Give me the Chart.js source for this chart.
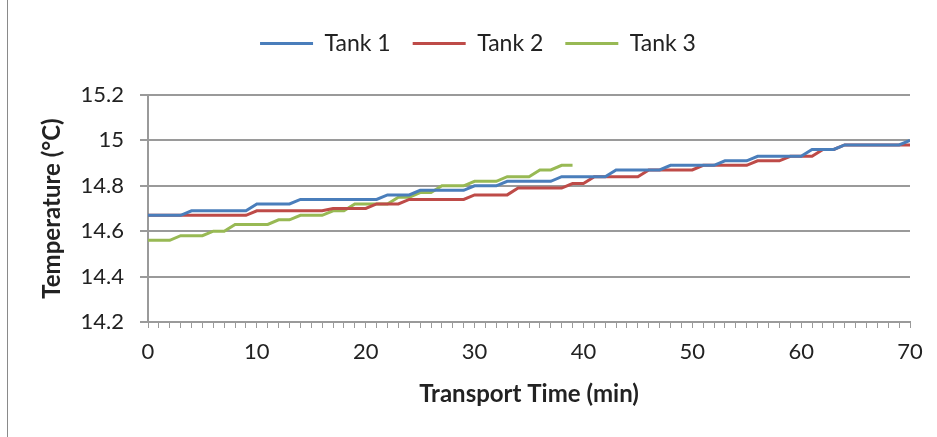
<!DOCTYPE html>
<html>
<head>
<meta charset="utf-8">
<script src="https://cdn.jsdelivr.net/npm/chart.js@4.4.1/dist/chart.umd.min.js"></script>
<style>
  html, body { margin: 0; padding: 0; background: #fff; }
  #wrap { position: relative; width: 937px; height: 437px; }
  #frame { position: absolute; left: 7px; top: 0; width: 0; height: 437px; border-left: 1px solid #8a8a8a; }
</style>
</head>
<body>
<div id="wrap">
  <div id="frame"></div>
  <canvas id="myChart" width="937" height="437"></canvas>
</div>
<script>
// minutos de transporte
var minutos = [0, 1, 2, 3, 4, 5, 6, 7, 8, 9, 10, 11, 12, 13, 14, 15, 16, 17, 18, 19,
  20, 21, 22, 23, 24, 25, 26, 27, 28, 29, 30, 31, 32, 33, 34, 35, 36, 37, 38, 39,
  40, 41, 42, 43, 44, 45, 46, 47, 48, 49, 50, 51, 52, 53, 54, 55, 56, 57, 58, 59,
  60, 61, 62, 63, 64, 65, 66, 67, 68, 69, 70];

var tank1 = [14.67, 14.67, 14.67, 14.67, 14.69, 14.69, 14.69, 14.69, 14.69, 14.69,
  14.72, 14.72, 14.72, 14.72, 14.74, 14.74, 14.74, 14.74, 14.74, 14.74,
  14.74, 14.74, 14.76, 14.76, 14.76, 14.78, 14.78, 14.78, 14.78, 14.78,
  14.80, 14.80, 14.80, 14.82, 14.82, 14.82, 14.82, 14.82, 14.84, 14.84,
  14.84, 14.84, 14.84, 14.87, 14.87, 14.87, 14.87, 14.87, 14.89, 14.89,
  14.89, 14.89, 14.89, 14.91, 14.91, 14.91, 14.93, 14.93, 14.93, 14.93,
  14.93, 14.96, 14.96, 14.96, 14.98, 14.98, 14.98, 14.98, 14.98, 14.98, 15.00];

var tank2 = [14.67, 14.67, 14.67, 14.67, 14.67, 14.67, 14.67, 14.67, 14.67, 14.67,
  14.69, 14.69, 14.69, 14.69, 14.69, 14.69, 14.69, 14.70, 14.70, 14.70,
  14.70, 14.72, 14.72, 14.72, 14.74, 14.74, 14.74, 14.74, 14.74, 14.74,
  14.76, 14.76, 14.76, 14.76, 14.79, 14.79, 14.79, 14.79, 14.79, 14.81,
  14.81, 14.84, 14.84, 14.84, 14.84, 14.84, 14.87, 14.87, 14.87, 14.87,
  14.87, 14.89, 14.89, 14.89, 14.89, 14.89, 14.91, 14.91, 14.91, 14.93,
  14.93, 14.93, 14.96, 14.96, 14.98, 14.98, 14.98, 14.98, 14.98, 14.98, 14.98];

var tank3 = [14.56, 14.56, 14.56, 14.58, 14.58, 14.58, 14.60, 14.60, 14.63, 14.63,
  14.63, 14.63, 14.65, 14.65, 14.67, 14.67, 14.67, 14.69, 14.69, 14.72,
  14.72, 14.72, 14.72, 14.75, 14.75, 14.77, 14.77, 14.80, 14.80, 14.80,
  14.82, 14.82, 14.82, 14.84, 14.84, 14.84, 14.87, 14.87, 14.89, 14.89];

var nomesSeries = ['Tank 1', 'Tank 2', 'Tank 3'];
var ticksY = [14.2, 14.4, 14.6, 14.8, 15, 15.2];
var ticksX = [0, 10, 20, 30, 40, 50, 60, 70];

function pontos(valores) {
    return valores.map(function (v, i) { return { x: minutos[i], y: v }; });
}

var fonte = 'Lato, "Open Sans", sans-serif';
var cinza = '#9a9a9a';

function serie(nome, valores, cor) {
    return {
        label: nome,
        data: pontos(valores),
        borderColor: cor,
        backgroundColor: cor,
        borderWidth: 3,
        pointRadius: 0,
        pointHoverRadius: 0,
        tension: 0
    };
}

// espaço extra entre a legenda e o gráfico, e legenda um pouco para a direita
const espacoLegenda = {
    id: 'espacoLegenda',
    beforeInit: function (chart) {
        const fitOriginal = chart.legend.fit;
        chart.legend.fit = function () {
            fitOriginal.bind(chart.legend)();
            this.height += 30;
        };
    },
    afterLayout: function (chart) {
        chart.legend.left += 18;
        chart.legend.right += 18;
    }
};

const config = {
    type: 'line',
    data: {
        datasets: [
            serie(nomesSeries[0], tank1, '#4a7ebb'),
            serie(nomesSeries[1], tank2, '#be4b48'),
            serie(nomesSeries[2], tank3, '#98b954')
        ]
    },
    options: {
        responsive: false,
        animation: false,
        layout: { padding: { left: 10, right: 27, top: 10, bottom: 0 } },
        plugins: {
            tooltip: { enabled: false },
            legend: {
                position: 'top',
                labels: {
                    usePointStyle: true,
                    pointStyle: 'line',
                    pointStyleWidth: 53,
                    padding: 22,
                    color: '#222',
                    font: { family: fonte, size: 23 }
                }
            }
        },
        scales: {
            x: {
                type: 'linear',
                min: 0,
                max: 70,
                afterFit: function (scale) { scale.height = 115; },
                border: { display: true, color: cinza, width: 2 },
                grid: { drawOnChartArea: false, drawTicks: true, tickLength: 6, color: cinza, lineWidth: 1 },
                ticks: {
                    stepSize: 1,
                    autoSkip: false,
                    maxRotation: 0,
                    padding: 11,
                    color: '#222',
                    font: { family: fonte, size: 22 },
                    callback: function (v) { return ticksX.indexOf(v) >= 0 ? String(v) : ''; }
                },
                title: {
                    display: true,
                    text: 'Transport Time (min)',
                    color: '#222',
                    font: { family: fonte, size: 24, weight: 'bold' },
                    padding: { top: 0, bottom: 28 }
                }
            },
            y: {
                min: 14.2,
                max: 15.2,
                afterFit: function (scale) { scale.width = 138; },
                afterBuildTicks: function (scale) {
                    scale.ticks = ticksY.map(function (v) { return { value: v }; });
                },
                border: { display: true, color: cinza, width: 2 },
                grid: { drawTicks: true, tickLength: 8, color: cinza, lineWidth: 2 },
                ticks: {
                    padding: 16,
                    color: '#222',
                    font: { family: fonte, size: 22 },
                    callback: function (v) { return String(Number(v.toFixed(1))); }
                },
                title: {
                    display: true,
                    text: 'Temperature (°C)',
                    color: '#222',
                    font: { family: fonte, size: 24, weight: 'bold' },
                    padding: { top: 28, bottom: 0 }
                }
            }
        }
    },
    plugins: [espacoLegenda]
};

let myChart = new Chart(document.getElementById('myChart'), config);
</script>
</body>
</html>
